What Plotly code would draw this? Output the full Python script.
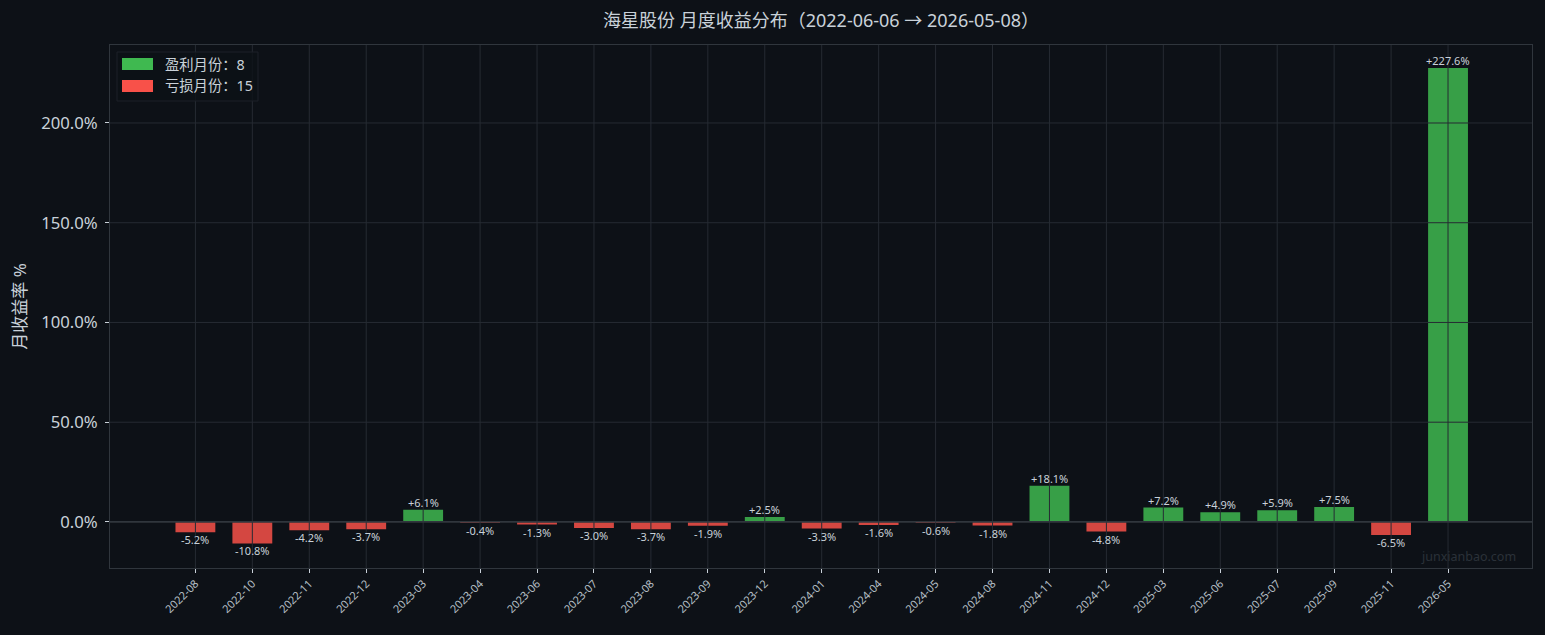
import plotly.graph_objects as go

months = ["2022-08", "2022-10", "2022-11", "2022-12", "2023-03", "2023-04", "2023-06",
          "2023-07", "2023-08", "2023-09", "2023-12", "2024-01", "2024-04", "2024-05",
          "2024-08", "2024-11", "2024-12", "2025-03", "2025-06", "2025-07", "2025-09",
          "2025-11", "2026-05"]
returns = [-5.2, -10.8, -4.2, -3.7, 6.1, -0.4, -1.3, -3.0, -3.7, -1.9, 2.5, -3.3, -1.6,
           -0.6, -1.8, 18.1, -4.8, 7.2, 4.9, 5.9, 7.5, -6.5, 227.6]
y_ticks = [0, 50, 100, 150, 200]

GREEN = "#3fb950"
RED = "#f85149"
BG = "#0d1117"
TXT = "#c9d1d9"
GRID = "#262b33"
FONT = "Noto Sans, Noto Sans CJK SC, sans-serif"

n_win = sum(1 for v in returns if v > 0)
n_loss = sum(1 for v in returns if v <= 0)

colors = [GREEN if v > 0 else RED for v in returns]
labels = [f"{v:+.1f}%" for v in returns]
xs = list(range(len(months)))

fig = go.Figure()
fig.add_trace(go.Bar(
    x=xs, y=returns, width=0.7,
    marker=dict(color=colors, opacity=0.85, line=dict(width=0)),
    showlegend=False, hoverinfo="skip",
))

# value labels just above / below each bar
for x, v, t in zip(xs, returns, labels):
    fig.add_annotation(x=x, y=v, xref="x", yref="y", text=t, showarrow=False,
                       yanchor="bottom" if v > 0 else "top",
                       yshift=-1 if v > 0 else 1, borderpad=0,
                       font=dict(size=11, color=TXT, family=FONT))

fig.update_layout(
    width=1545, height=635,
    paper_bgcolor=BG, plot_bgcolor=BG,
    margin=dict(l=110, r=13, t=45, b=67),
    font=dict(family=FONT, color=TXT),
    title=dict(text="海星股份 月度收益分布（2022-06-06 → 2026-05-08）",
               xref="paper", x=0.5, xanchor="center", y=0.967, yanchor="middle",
               font=dict(size=18, color=TXT)),
)
fig.update_xaxes(
    range=[-1.5, len(months) - 1 + 1.475],
    tickvals=xs, ticktext=months, tickangle=-45,
    tickfont=dict(size=11, color="#b8c0c8"),
    showgrid=False,
    ticks="outside", ticklen=4, tickcolor="#c9d1d9", tickwidth=1,
    showline=True, linecolor="#30363d", mirror=True, linewidth=1,
    zeroline=False,
)
fig.update_yaxes(
    range=[-23.1, 239.1],
    tickvals=y_ticks, ticktext=[f"{v:.1f}%" for v in y_ticks],
    tickfont=dict(size=16.7, color=TXT),
    ticklabelstandoff=4,
    title=dict(text="月收益率 %", font=dict(size=17, color=TXT), standoff=10),
    showgrid=False,
    ticks="outside", ticklen=4, tickcolor="#c9d1d9", tickwidth=1,
    showline=True, linecolor="#30363d", mirror=True, linewidth=1,
    zeroline=False,
)

# grid drawn above bars (as in the reference)
for x in xs:
    fig.add_shape(type="line", xref="x", yref="paper", x0=x, x1=x, y0=0, y1=1,
                  line=dict(color=GRID, width=1), layer="above")
for yv in y_ticks[1:]:
    fig.add_shape(type="line", xref="paper", yref="y", x0=0, x1=1, y0=yv, y1=yv,
                  line=dict(color=GRID, width=1), layer="above")
fig.add_shape(type="line", xref="paper", yref="y", x0=0, x1=1, y0=0, y1=0,
              line=dict(color="#30363d", width=1.6), layer="above")

# custom legend
def px_x(p):
    return (p - 110) / (1545 - 110 - 13)

def px_y(p):
    return 1 - (p - 45) / (635 - 45 - 67)

fig.add_shape(type="rect", xref="paper", yref="paper",
              x0=px_x(117), x1=px_x(258), y0=px_y(52), y1=px_y(101),
              fillcolor="rgba(13,17,23,0.8)", line=dict(color="#1c2128", width=1))
for yc, col, txt in [(64, GREEN, f"盈利月份：{n_win}"), (86, RED, f"亏损月份：{n_loss}")]:
    fig.add_shape(type="rect", xref="paper", yref="paper",
                  x0=px_x(122), x1=px_x(153), y0=px_y(yc - 6), y1=px_y(yc + 6),
                  fillcolor=col, line=dict(width=0))
    fig.add_annotation(xref="paper", yref="paper", x=px_x(163), y=px_y(yc),
                       xanchor="left", yanchor="middle", showarrow=False,
                       text=txt, font=dict(size=14.3, color=TXT))

fig.add_annotation(xref="paper", yref="paper", x=px_x(1518), y=px_y(556),
                   xanchor="right", yanchor="middle", showarrow=False,
                   text="junxianbao.com", font=dict(size=12.5, color="#2b3139"))

fig.write_html("out.html", config={"displayModeBar": False},
               post_script="document.body.style.margin='0';"
                           "document.body.style.background='#0d1117';")
